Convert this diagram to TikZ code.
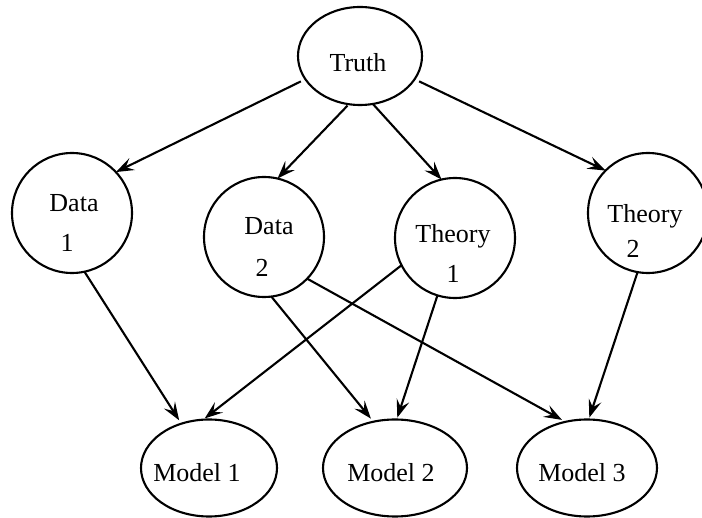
\documentclass[tikz,border=0pt]{standalone}
\usepackage{fontspec}
\setmainfont{Liberation Serif}
\usetikzlibrary{arrows.meta,shapes.geometric}
\begin{document}
\begin{tikzpicture}[x=1pt,y=-1pt,
  every node/.style={inner sep=0pt,outer sep=0pt},
  circ/.style={circle,draw,line width=2.1pt,minimum size=120pt},
  oval/.style={ellipse,draw,line width=2.1pt},
  txt/.style={anchor=base,font=\fontsize{26}{30}\selectfont},
  link/.style={line width=2.1pt,-{Stealth[length=18pt,width=13pt,inset=7pt]}}]
  \useasboundingbox (0,0) rectangle (702,518);

  % top node
  \node[oval,minimum width=124pt,minimum height=98pt] (t) at (360,56) {};
  \node[txt] (tt) at (358,72) {Truth};

  % sources: data and theory
  \node[circ] (d1) at (72,213) {};
  \node[txt] (d1a) at (74,212) {Data};
  \node[txt] (d1b) at (67,252) {1};

  \node[circ] (d2) at (264,237) {};
  \node[txt] (d2a) at (269,235) {Data};
  \node[txt] (d2b) at (262,277) {2};

  \node[circ] (th1) at (455,238) {};
  \node[txt] (th1a) at (453,243) {Theory};
  \node[txt] (th1b) at (453,283) {1};

  \node[circ] (th2) at (648,213) {};
  \node[txt] (th2a) at (645,223) {Theory};
  \node[txt] (th2b) at (633,258) {2};

  % models
  \node[oval,minimum width=136pt,minimum height=97pt] (m1) at (209,468) {};
  \node[txt] (m1t) at (197,482) {Model 1};
  \node[oval,minimum width=144pt,minimum height=97pt] (m2) at (395,468) {};
  \node[txt] (m2t) at (391,482) {Model 2};
  \node[oval,minimum width=140pt,minimum height=97pt] (m3) at (587,468) {};
  \node[txt] (m3t) at (582,482) {Model 3};

  % truth feeds data and theory
  \draw[link,shorten <=5pt] (t.203) -- (d1.43);
  \draw[link,shorten <=2pt] (t.257) -- (d2.77);
  \draw[link] (t.285) -- (th1.103);
  \draw[link,shorten <=5pt] (t.337) -- (th2.135);

  % data and theory feed models
  \draw[link,shorten >=4pt] (d1.282) -- (m1.122);
  \draw[link,shorten >=2pt] (th1.207) -- (m1.97);
  \draw[link,shorten >=4pt] (d2.277) -- (m2.115);
  \draw[link,shorten >=2pt] (th1.253) -- (m2.88);
  \draw[link,shorten >=4pt] (d2.316) -- (m3.115);
  \draw[link,shorten >=2pt] (th2.260) -- (m3.88);
\end{tikzpicture}
\end{document}
